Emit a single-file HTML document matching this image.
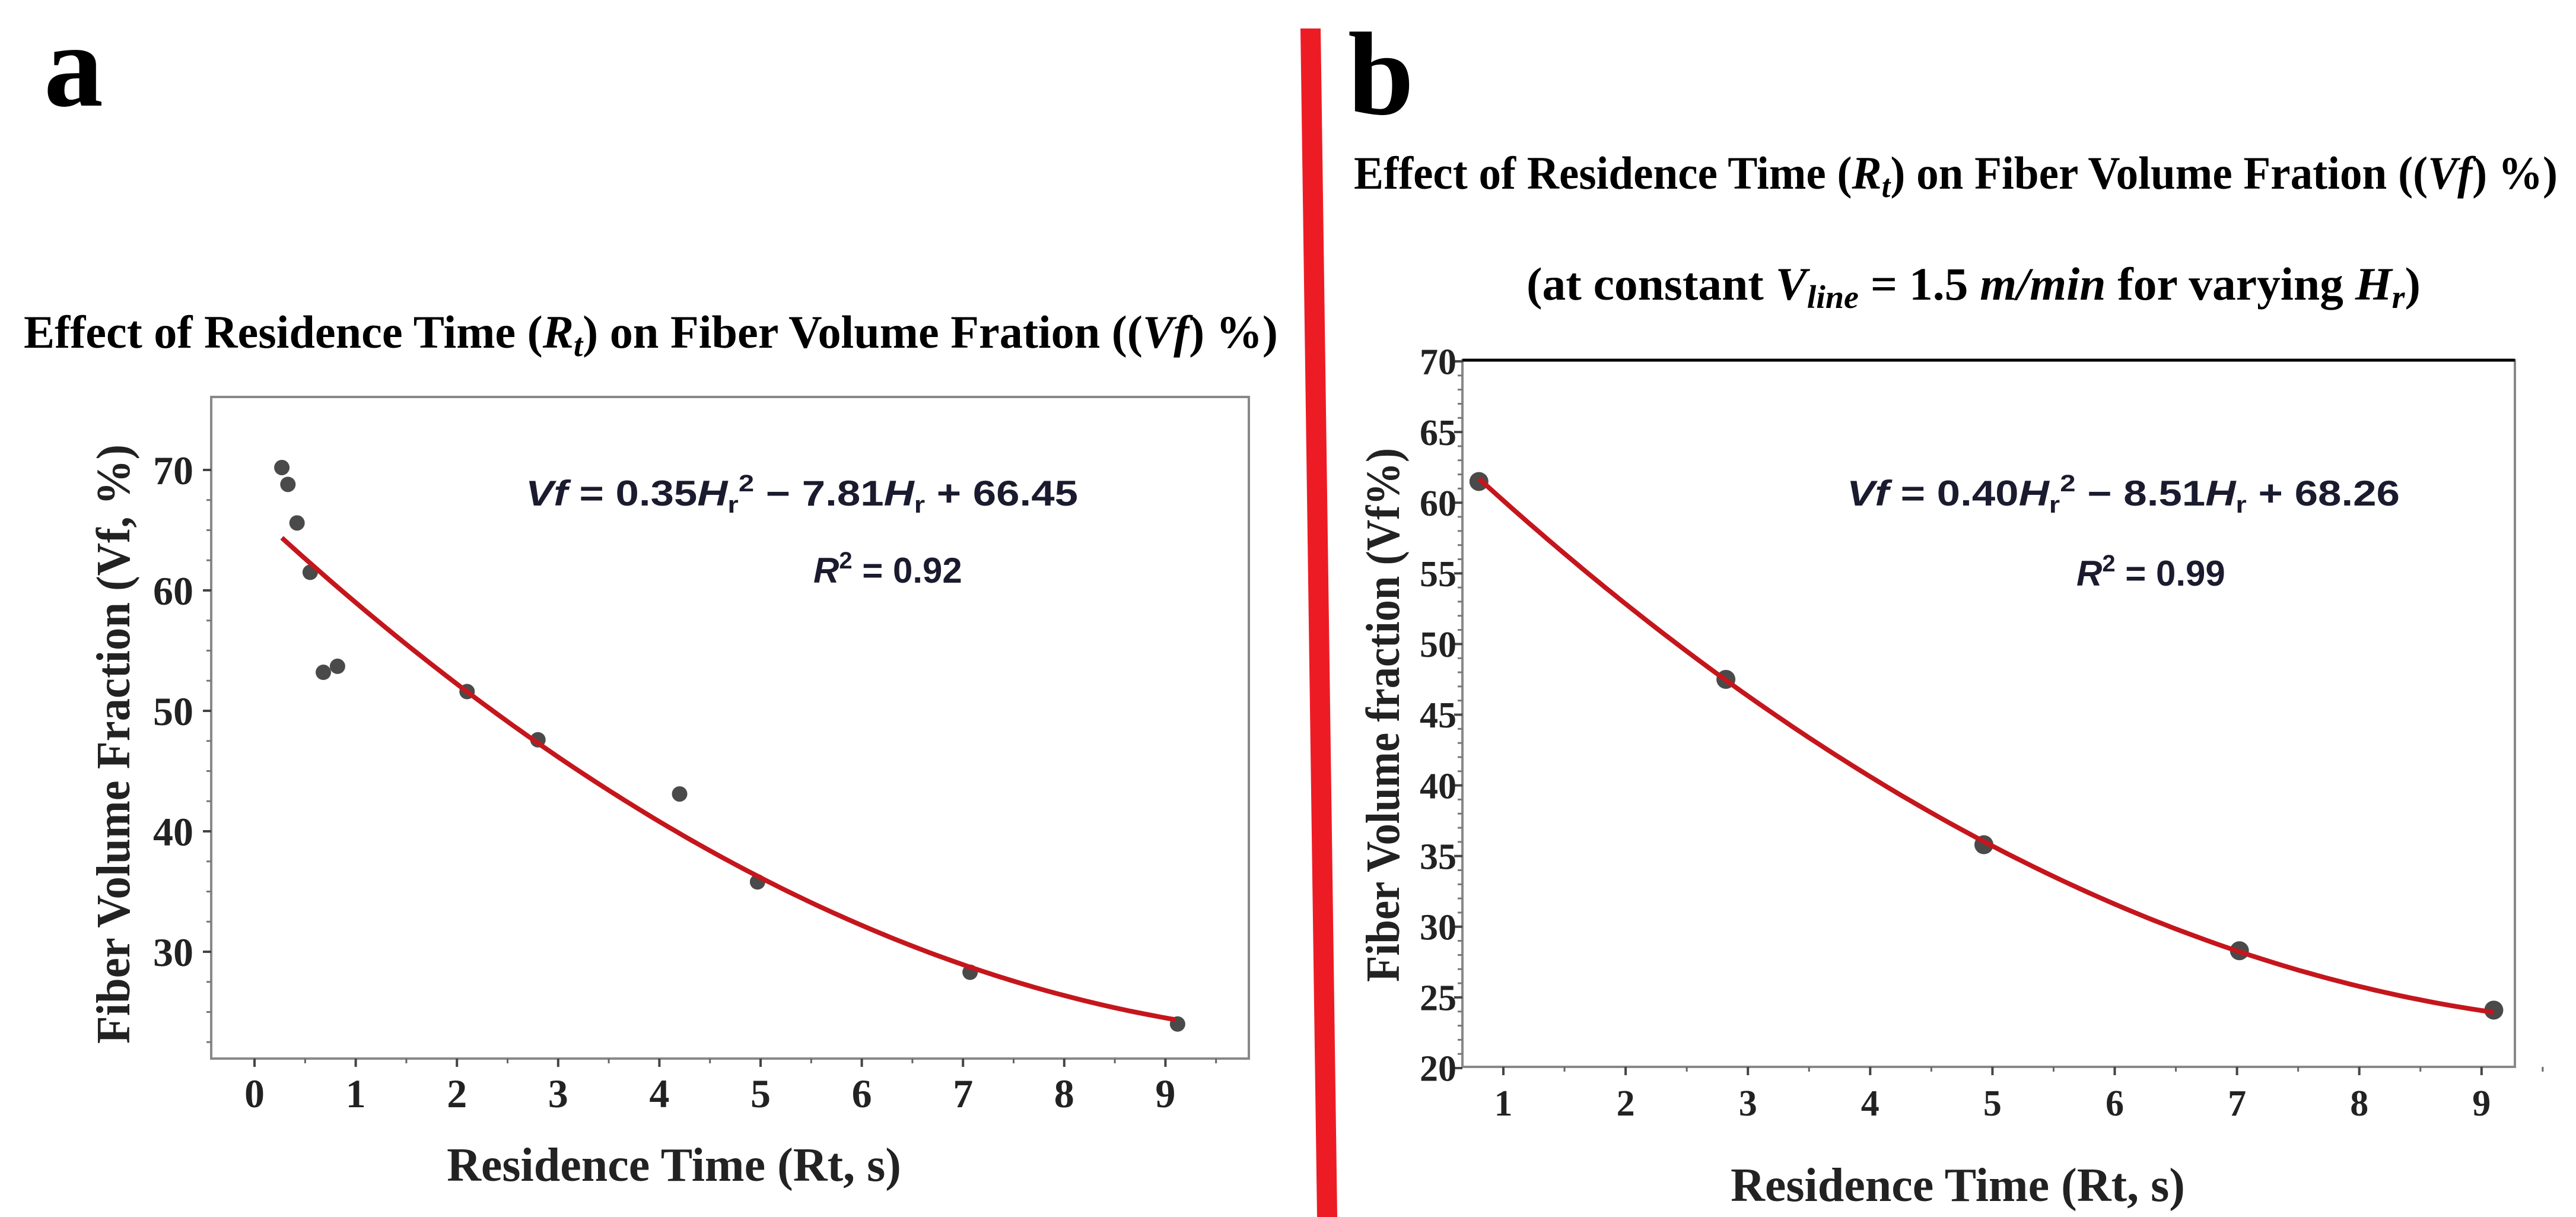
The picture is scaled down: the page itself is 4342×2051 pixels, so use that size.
<!DOCTYPE html>
<html><head><meta charset="utf-8"><style>
html,body{margin:0;padding:0;background:#fff;}
svg{display:block;}
text{font-family:"Liberation Serif",serif;font-weight:bold;}
.eq{font-family:"Liberation Sans",sans-serif;font-weight:bold;fill:#1b1b2f;}
</style></head><body>
<svg id="fig" width="4342" height="2051" viewBox="0 0 4342 2051" xmlns="http://www.w3.org/2000/svg">
<rect width="4342" height="2051" fill="#fff"/>
<text x="74" y="178" font-size="200">a</text>
<text x="40" y="586" font-size="78" textLength="2114" lengthAdjust="spacingAndGlyphs">Effect of Residence Time (<tspan font-style="italic">R</tspan><tspan font-style="italic" font-size="55" dy="14">t</tspan><tspan dy="-14">)  on  Fiber Volume Fration ((</tspan><tspan font-style="italic">Vf</tspan>) %)</text>
<polygon points="2192,48 2226,48 2254,2051 2220,2051" fill="#ed1c24"/>
<text x="2272" y="192" font-size="200">b</text>
<text x="2282" y="318" font-size="78" textLength="2029" lengthAdjust="spacingAndGlyphs">Effect of Residence Time (<tspan font-style="italic">R</tspan><tspan font-style="italic" font-size="55" dy="14">t</tspan><tspan dy="-14">)  on  Fiber Volume Fration ((</tspan><tspan font-style="italic">Vf</tspan>) %)</text>
<text x="2573" y="505" font-size="78" textLength="1507" lengthAdjust="spacingAndGlyphs">(at constant <tspan font-style="italic">V</tspan><tspan font-style="italic" font-size="55" dy="14">line</tspan><tspan dy="-14"> = 1.5 </tspan><tspan font-style="italic">m/min</tspan> for varying  <tspan font-style="italic">H</tspan><tspan font-style="italic" font-size="55" dy="14">r</tspan><tspan dy="-14">)</tspan></text>
<g id="chartA"></g>
<g id="chartB"></g>
</svg>
<script>
const NS="http://www.w3.org/2000/svg";
// Panel a data
const aX=[0.27,0.33,0.42,0.55,0.68,0.82,2.1,2.8,4.2,4.97,7.07,9.12];
const aY=[70.2,68.8,65.6,61.5,53.2,53.7,51.6,47.6,43.1,35.8,28.3,24.0];
const aCoef=[0.35,-7.81,66.45];
const aXTicks=[0,1,2,3,4,5,6,7,8,9];
const aYTicks=[30,40,50,60,70];
// Panel b data
const bX=[0.8,2.82,4.93,7.02,9.1];
const bY=[61.5,47.5,35.8,28.3,24.1];
const bCoef=[0.40,-8.51,68.26];
const bXTicks=[1,2,3,4,5,6,7,8,9];
const bYTicks=[20,25,30,35,40,45,50,55,60,65,70];

function mk(tag,attrs,parent){const e=document.createElementNS(NS,tag);for(const k in attrs)e.setAttribute(k,attrs[k]);parent.appendChild(e);return e;}

function draw(g,cfg){
  const sx=v=>cfg.x0px+(v-cfg.x0)*cfg.xu;
  const sy=v=>cfg.y0px-(v-cfg.y0)*cfg.yu;
  const box=mk('rect',{x:cfg.L,y:cfg.T,width:cfg.R-cfg.L,height:cfg.B-cfg.T,fill:'#fff',stroke:'#888','stroke-width':4},g);
  
  
  if(cfg.topBlack){const tl=mk('line',{x1:cfg.L,y1:cfg.T,x2:cfg.R,y2:cfg.T,stroke:'#000','stroke-width':5},g);
    }
  cfg.xt.forEach(v=>{
    const x=sx(v);
    const t=mk('line',{x1:x,y1:cfg.B,x2:x,y2:cfg.B+14,stroke:'#444','stroke-width':4},g);
    
    const m=mk('line',{x1:sx(v+0.5),y1:cfg.B,x2:sx(v+0.5),y2:cfg.B+8,stroke:'#666','stroke-width':3},g);
    
    const l=mk('text',{x:x,y:cfg.xly,'font-size':cfg.fs,'text-anchor':'middle',fill:'#222'},g);
    l.textContent=v;
  });
  cfg.yt.forEach((v,i)=>{
    const y=sy(v);
    const t=mk('line',{x1:cfg.L-14,y1:y,x2:cfg.L,y2:y,stroke:'#444','stroke-width':4},g);
    
    for(let k=1;k<cfg.minorN;k++){const yy=sy(v-k*cfg.ystep/cfg.minorN);if(yy<=cfg.B){
      const m=mk('line',{x1:cfg.L-8,y1:yy,x2:cfg.L,y2:yy,stroke:'#777','stroke-width':3},g);
      }}
    const l=mk('text',{x:cfg.L-cfg.ylo,y:y+cfg.fs*0.35,'font-size':cfg.fs,'text-anchor':'end',fill:'#222'},g);
    l.textContent=v;
  });
  let d='';const n=120;
  for(let i=0;i<=n;i++){const xv=cfg.cx0+(cfg.cx1-cfg.cx0)*i/n;const yv=cfg.c[0]*xv*xv+cfg.c[1]*xv+cfg.c[2];d+=(i?'L':'M')+sx(xv).toFixed(1)+','+sy(yv).toFixed(1);}
  cfg.px.forEach((xv,i)=>{
    const c=mk('circle',{cx:sx(xv),cy:sy(cfg.py[i]),r:cfg.r,fill:'#4a4a4a'},g);
    
  });
  const p=mk('path',{d:d,fill:'none',stroke:'#c4161c','stroke-width':8},g);
  
}

draw(document.getElementById('chartA'),{L:356,R:2105,T:669,B:1784,x0:0,x0px:429,xu:170.6,y0:70,y0px:792,yu:20.3,
  xt:aXTicks,yt:aYTicks,ystep:10,minorN:4,fs:68,xly:1866,ylo:30,px:aX,py:aY,c:aCoef,cx0:0.27,cx1:9.1,r:13});
draw(document.getElementById('chartB'),{L:2465,R:4239,T:607,B:1798,x0:1,x0px:2534,xu:206.1,y0:70,y0px:609,yu:23.82,
  xt:bXTicks,yt:bYTicks,ystep:5,minorN:5,fs:62,xly:1880,ylo:10,px:bX,py:bY,c:bCoef,cx0:0.8,cx1:9.1,r:16,topBlack:true});
</script>
<svg style="position:absolute;left:0;top:0" width="4342" height="2051" viewBox="0 0 4342 2051" xmlns="http://www.w3.org/2000/svg">
<text x="1136" y="1990" font-size="80" text-anchor="middle" fill="#222">Residence Time (Rt, s)</text>
<text transform="translate(218,1254) rotate(-90)" font-size="80" text-anchor="middle" fill="#222" textLength="1010" lengthAdjust="spacingAndGlyphs">Fiber Volume Fraction (Vf, %)</text>
<text class="eq" x="886" y="852" font-size="60" textLength="931" lengthAdjust="spacingAndGlyphs"><tspan font-style="italic">Vf</tspan> = 0.35<tspan font-style="italic">H</tspan><tspan font-size="40" dy="12">r</tspan><tspan font-size="40" dy="-36">2</tspan><tspan dy="24"> − 7.81</tspan><tspan font-style="italic">H</tspan><tspan font-size="40" dy="12">r</tspan><tspan dy="-12"> + 66.45</tspan></text>
<text class="eq" x="1371" y="982" font-size="60"><tspan font-style="italic">R</tspan><tspan font-size="40" dy="-24">2</tspan><tspan dy="24"> = 0.92</tspan></text>
<text x="3300" y="2024" font-size="80" text-anchor="middle" fill="#222">Residence Time (Rt, s)</text>
<text transform="translate(2358,1205) rotate(-90)" font-size="80" text-anchor="middle" fill="#222" textLength="900" lengthAdjust="spacingAndGlyphs">Fiber Volume fraction (Vf%)</text>
<text class="eq" x="3113" y="852" font-size="60" textLength="932" lengthAdjust="spacingAndGlyphs"><tspan font-style="italic">Vf</tspan> = 0.40<tspan font-style="italic">H</tspan><tspan font-size="40" dy="12">r</tspan><tspan font-size="40" dy="-36">2</tspan><tspan dy="24"> − 8.51</tspan><tspan font-style="italic">H</tspan><tspan font-size="40" dy="12">r</tspan><tspan dy="-12"> + 68.26</tspan></text>
<text class="eq" x="3500" y="987" font-size="60"><tspan font-style="italic">R</tspan><tspan font-size="40" dy="-24">2</tspan><tspan dy="24"> = 0.99</tspan></text>
</svg>
</body></html>
